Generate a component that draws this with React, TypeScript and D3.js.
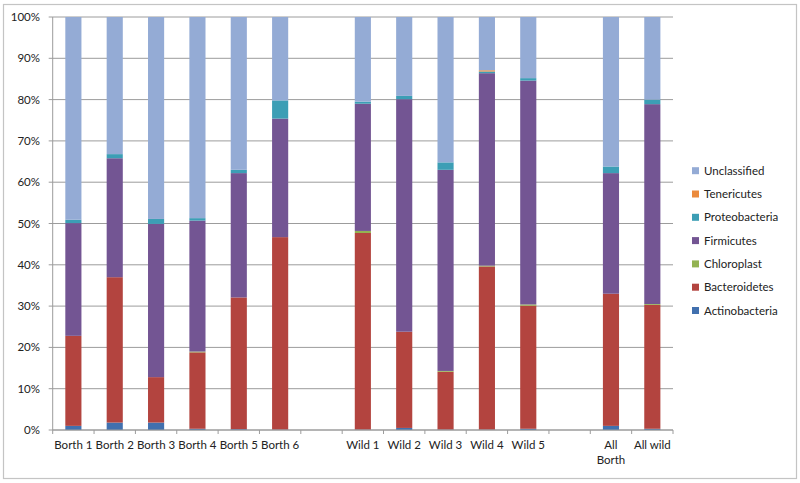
import React from "react";
import * as d3 from "d3";

const categories = ["Borth 1", "Borth 2", "Borth 3", "Borth 4", "Borth 5", "Borth 6", "", "Wild 1", "Wild 2", "Wild 3", "Wild 4", "Wild 5", "", "All Borth", "All wild"];
const seriesNames = ["Actinobacteria", "Bacteroidetes", "Chloroplast", "Firmicutes", "Proteobacteria", "Tenericutes", "Unclassified"];
const actinobacteria = [1.0, 1.8, 1.8, 0.3, 0.2, 0.1, 0, 0.1, 0.5, 0.1, 0.1, 0.3, 0, 1.0, 0.3];
const bacteroidetes = [21.8, 35.2, 11.0, 18.5, 31.9, 46.6, 0, 47.6, 23.3, 14.0, 39.5, 29.8, 0, 32.0, 30.0];
const chloroplast = [0, 0, 0, 0.2, 0, 0, 0, 0.5, 0, 0.2, 0.2, 0.3, 0, 0, 0.2];
const firmicutes = [27.3, 28.8, 37.1, 31.7, 30.1, 28.7, 0, 30.8, 56.3, 48.7, 46.6, 54.2, 0, 29.2, 48.4];
const proteobacteria = [0.8, 1.0, 1.2, 0.6, 0.8, 4.4, 0, 0.5, 0.8, 1.8, 0.4, 0.6, 0, 1.6, 1.1];
const tenericutes = [0, 0, 0, 0, 0, 0, 0, 0, 0, 0, 0.3, 0, 0, 0, 0];
const unclassified = [49.1, 33.2, 48.9, 48.7, 37.0, 20.2, 0, 20.5, 19.1, 35.2, 12.9, 14.8, 0, 36.2, 20.0];
const yTicks = [0, 10, 20, 30, 40, 50, 60, 70, 80, 90, 100];

const colors: Record<string, string> = {
  Actinobacteria: "#4170AE",
  Bacteroidetes: "#B3443F",
  Chloroplast: "#93B352",
  Firmicutes: "#735593",
  Proteobacteria: "#3C9EB5",
  Tenericutes: "#EB8A3C",
  Unclassified: "#94ABD5",
};

export default function App() {
  const values = [actinobacteria, bacteroidetes, chloroplast, firmicutes, proteobacteria, tenericutes, unclassified];
  const rows = categories.map((c, i) => {
    const r: any = { id: "c" + i, label: c };
    seriesNames.forEach((s, j) => (r[s] = values[j][i]));
    return r;
  });
  const stack = d3.stack<any>().keys(seriesNames);
  const stacked = stack(rows);

  const left = 52.7, right = 673, top = 17, bottom = 430;
  const x = d3.scaleBand().domain(rows.map((r) => r.id)).range([left, right]).paddingInner(0.61).paddingOuter(0.305);
  const y = d3.scaleLinear().domain([0, 100]).range([bottom, top]);
  const step = x.step();
  const font = "Lato, 'Open Sans', sans-serif";

  const legendOrder = [...seriesNames].reverse();

  return (
    <svg width={800} height={483} style={{ position: "absolute", left: 0, top: 0, background: "#fff" }} fontFamily={font}>
      <rect x={3.5} y={4.5} width={793} height={474} fill="#fff" stroke="#c4c4c4" strokeWidth={1.2} />
      {yTicks.map((t) => (
        <g key={t}>
          <line x1={left - 4} x2={right} y1={y(t)} y2={y(t)} stroke="#9c9c9c" strokeWidth={1} />
          <text x={40} y={y(t)} dy="0.35em" textAnchor="end" fontSize={11.5} fill="#222">{t}%</text>
        </g>
      ))}
      <line x1={left} x2={left} y1={top} y2={bottom} stroke="#9c9c9c" />
      {stacked.map((s) => (
        <g key={s.key} fill={colors[s.key]}>
          {s.map((d, i) =>
            d[1] - d[0] > 0 ? (
              <rect key={i} x={x(rows[i].id)} width={x.bandwidth()} y={y(d[1])} height={y(d[0]) - y(d[1])} />
            ) : null
          )}
        </g>
      ))}
      <line x1={left} x2={right} y1={bottom} y2={bottom} stroke="#9c9c9c" />
      {d3.range(categories.length + 1).map((i) => (
        <line key={i} x1={left + i * step} x2={left + i * step} y1={bottom} y2={bottom + 4} stroke="#9c9c9c" />
      ))}
      {rows.map((r) => {
        const cx = (x(r.id) as number) + x.bandwidth() / 2;
        if (r.label === "All Borth") {
          return (
            <text key={r.id} x={cx} y={449} textAnchor="middle" fontSize={11.5} fill="#222">
              <tspan x={cx}>All</tspan>
              <tspan x={cx} dy={15}>Borth</tspan>
            </text>
          );
        }
        return (
          <text key={r.id} x={cx} y={449} textAnchor="middle" fontSize={11.5} fill="#222">{r.label}</text>
        );
      })}
      {legendOrder.map((s, i) => (
        <g key={s} transform={`translate(692, ${170.7 + i * 23.3})`}>
          <rect x={0} y={-3.5} width={7} height={7} fill={colors[s]} />
          <text x={12} y={0} dy="0.35em" fontSize={11.5} fill="#222">{s}</text>
        </g>
      ))}
    </svg>
  );
}
